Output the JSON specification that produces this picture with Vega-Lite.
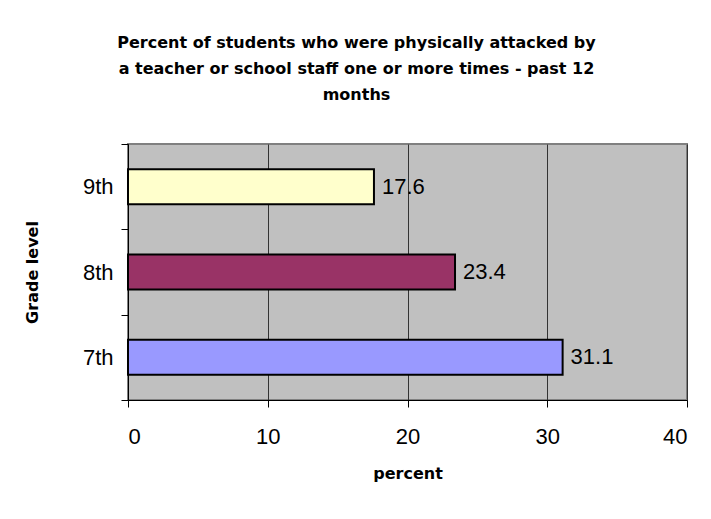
{
  "$schema": "https://vega.github.io/schema/vega-lite/v6.json",
  "width": 559,
  "height": 256,
  "autosize": {"type": "none"},
  "padding": {"left": 128, "top": 144, "right": 24, "bottom": 119},
  "background": "white",
  "config": {
    "font": "Liberation Sans",
    "view": {"fill": "#C0C0C0", "stroke": "#808080", "strokeWidth": 2}
  },
  "title": {
    "text": ["Percent of students who were physically attacked by", "a teacher or school staff one or more times - past 12", "months"],
    "font": "DejaVu Sans",
    "fontSize": 16,
    "fontWeight": "bold",
    "lineHeight": 26,
    "color": "black",
    "anchor": "middle",
    "frame": "group",
    "dx": -51,
    "offset": 30
  },
  "data": {
    "values": [
      {"grade": "9th", "percent": 17.6},
      {"grade": "8th", "percent": 23.4},
      {"grade": "7th", "percent": 31.1}
    ]
  },
  "encoding": {
    "y": {
      "field": "grade",
      "type": "nominal",
      "sort": ["9th", "8th", "7th"],
      "scale": {"paddingInner": 0, "paddingOuter": 0},
      "axis": {
        "title": "Grade level",
        "titleFont": "DejaVu Sans",
        "titleFontSize": 16,
        "titleFontWeight": "bold",
        "titleColor": "black",
        "titlePadding": 42,
        "labelFont": "Liberation Sans",
        "labelFontSize": 22,
        "labelColor": "black",
        "labelPadding": 8,
        "domainColor": "black",
        "tickColor": "black",
        "tickSize": 7,
        "tickBand": "extent",
        "grid": false
      }
    },
    "x": {
      "field": "percent",
      "type": "quantitative",
      "scale": {"domain": [0, 40], "nice": false},
      "axis": {
        "title": "percent",
        "titleFont": "DejaVu Sans",
        "titleFontSize": 16,
        "titleFontWeight": "bold",
        "titleColor": "black",
        "titlePadding": 18,
        "values": [0, 10, 20, 30, 40],
        "labelFont": "Liberation Sans",
        "labelFontSize": 22,
        "labelColor": "black",
        "labelPadding": 19,
        "domainColor": "black",
        "tickColor": "black",
        "tickSize": 7,
        "grid": true,
        "gridColor": "#333333",
        "gridOpacity": 1,
        "gridWidth": 1
      }
    }
  },
  "layer": [
    {
      "mark": {"type": "bar", "stroke": "black", "strokeWidth": 2, "height": {"band": 0.41}},
      "encoding": {
        "color": {
          "field": "grade",
          "type": "nominal",
          "scale": {"domain": ["9th", "8th", "7th"], "range": ["#FFFFCC", "#993366", "#9999FF"]},
          "legend": null
        }
      }
    },
    {
      "mark": {"type": "text", "align": "left", "baseline": "middle", "dx": 8, "fontSize": 22, "font": "Liberation Sans", "color": "black"},
      "encoding": {
        "text": {"field": "percent", "type": "quantitative", "format": ".1f"}
      }
    }
  ]
}
